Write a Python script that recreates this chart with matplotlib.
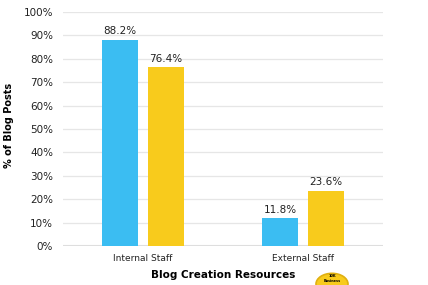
import numpy as np
import matplotlib.pyplot as plt
from matplotlib.patches import Circle

categories = ['Internal Staff', 'External Staff']
series_a = [88.2, 11.8]
series_b = [76.4, 23.6]
y_ticks = [0, 10, 20, 30, 40, 50, 60, 70, 80, 90, 100]

blue = '#3bbdf2'
yellow = '#f8cb1c'

fig = plt.figure(figsize=(4.28, 2.85), dpi=100)
ax = fig.add_axes([0.147, 0.137, 0.748, 0.821])

x = np.arange(len(categories))
w = 0.22
off = 0.144
bars_a = ax.bar(x - off, series_a, w, color=blue, zorder=3)
bars_b = ax.bar(x + off, series_b, w, color=yellow, zorder=3)

for bars, vals in [(bars_a, series_a), (bars_b, series_b)]:
    for b, v in zip(bars, vals):
        ax.text(b.get_x() + b.get_width() / 2, v + 1.5, f'{v:.1f}%',
                ha='center', va='bottom', fontsize=7.5, color='#222222')

ax.set_xlim(-0.5, 1.5)
ax.set_ylim(0, 100)
ax.set_yticks(y_ticks)
ax.set_yticklabels([f'{t}%' for t in y_ticks], fontsize=7.5, color='#222222')
ax.set_xticks(x)
ax.set_xticklabels(categories, fontsize=6.5, color='#222222')
ax.tick_params(length=0)
ax.tick_params(axis='y', pad=7)
ax.tick_params(axis='x', pad=6)
ax.grid(axis='y', color='#e6e6e6', linewidth=0.9, zorder=0)
ax.axhline(0, color='#dddddd', linewidth=1.5, zorder=1)
for s in ax.spines.values():
    s.set_visible(False)

ax.set_xlabel('Blog Creation Resources', fontsize=7.5, fontweight='bold', labelpad=5)
ax.set_ylabel('% of Blog Posts', fontsize=7, fontweight='bold')
ax.yaxis.set_label_coords(-0.152, 0.517)

# badge logo at bottom
badge = Circle((332 / 428, 1 / 285), 16 / 428, transform=fig.transFigure,
               facecolor=yellow, edgecolor='#e0b010', linewidth=1.2, clip_on=False)
fig.patches.append(badge)
fig.text(332 / 428, 1 - 276 / 285, '10K', fontsize=2.5, fontweight='bold', ha='center', va='center')
fig.text(332 / 428, 1 - 281 / 285, 'Business', fontsize=2.5, fontweight='bold', ha='center', va='center')

fig.savefig('out.png', dpi=100)
